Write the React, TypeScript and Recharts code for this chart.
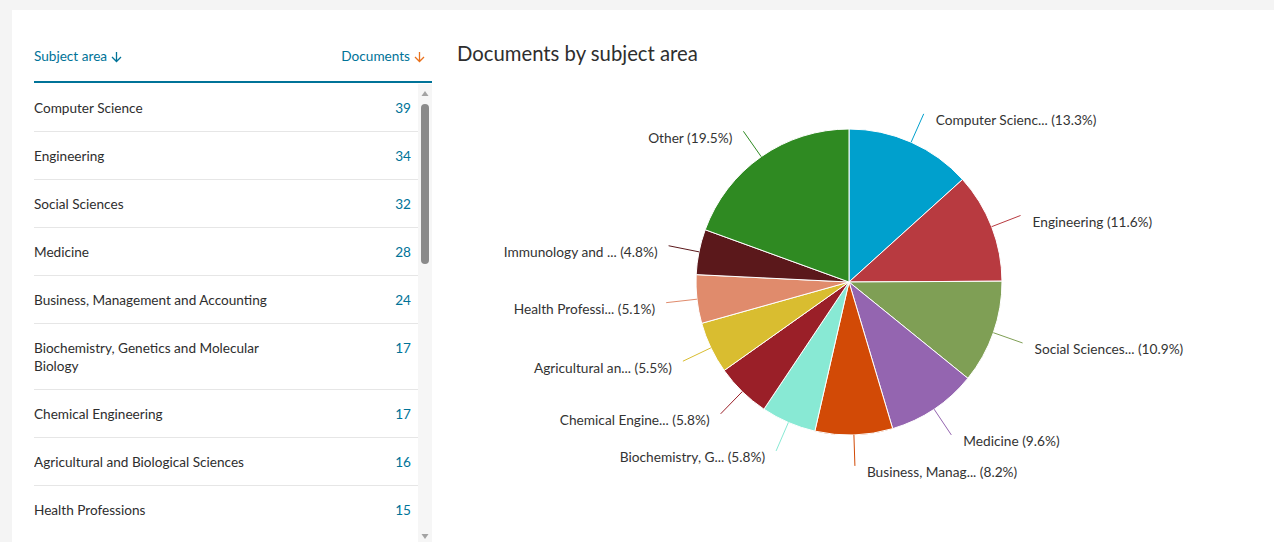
import { PieChart, Pie, Cell } from "recharts";

// subject areas, full names for the table
const SUBJECTS = [
  "Computer Science",
  "Engineering",
  "Social Sciences",
  "Medicine",
  "Business, Management and Accounting",
  "Biochemistry, Genetics and Molecular Biology",
  "Chemical Engineering",
  "Agricultural and Biological Sciences",
  "Health Professions",
  "Immunology and Microbiology",
];
const DOCUMENTS = [39, 34, 32, 28, 24, 17, 17, 16, 15, 14];
const VISIBLE_ROWS = 9; // the table is scrolled, only 9 rows fit

// pie slices (top 10 + other)
const SLICE_LABELS = [
  "Computer Scienc...",
  "Engineering",
  "Social Sciences...",
  "Medicine",
  "Business, Manag...",
  "Biochemistry, G...",
  "Chemical Engine...",
  "Agricultural an...",
  "Health Professi...",
  "Immunology and ...",
  "Other",
];
const SLICE_VALUES = [39, 34, 32, 28, 24, 17, 17, 16, 15, 14, 57];
const SLICE_COLORS = [
  "#00a0cd", "#b83a40", "#7f9f55", "#9465b0", "#d24a06",
  "#88e9d4", "#9a1f28", "#d9bd30", "#e08b6c", "#5b181b", "#2f8a22",
];

const pieData = SLICE_LABELS.map((name, i) => ({ name, value: SLICE_VALUES[i] }));

const FONT = "Lato, 'Open Sans', sans-serif";
const BLUE = "#007398";
const RADIAN = Math.PI / 180;

function renderLabel(props: any) {
  const { cx, cy, midAngle, outerRadius, percent, index } = props;
  const cos = Math.cos(-midAngle * RADIAN);
  const sin = Math.sin(-midAngle * RADIAN);
  const sx = cx + outerRadius * cos;
  const sy = cy + outerRadius * sin;
  const ex = cx + (outerRadius + 31) * cos;
  const ey = cy + (outerRadius + 31) * sin;
  const right = cos >= 0;
  return (
    <g key={`lbl-${index}`}>
      <path d={`M${sx},${sy}L${ex},${ey}`} stroke={SLICE_COLORS[index]} strokeWidth={1} fill="none" />
      <text
        x={ex + (right ? 12 : -11)}
        y={ey + 6}
        textAnchor={right ? "start" : "end"}
        dominantBaseline="central"
        fontSize={13.7}
        fontFamily={FONT}
        fill="#333"
      >
        {`${SLICE_LABELS[index]} (${(percent * 100).toFixed(1)}%)`}
      </text>
    </g>
  );
}

function Arrow({ color }: { color: string }) {
  return (
    <svg width="11" height="12" style={{ marginLeft: 4, verticalAlign: "-2px" }}>
      <path d="M5.5 1 V10.5 M1 6 L5.5 10.5 L10 6" stroke={color} strokeWidth="1.3" fill="none" />
    </svg>
  );
}

export default function App() {
  return (
    <div style={{ position: "relative", width: 1274, height: 542, background: "#f4f4f4", overflow: "hidden", fontFamily: FONT }}>
      <style>{"body{margin:0}"}</style>
      <div style={{ position: "absolute", left: 12, top: 10, right: 0, bottom: 0, background: "#fff" }} />

      {/* table */}
      <div style={{ position: "absolute", left: 34, top: 44, width: 398, fontSize: 13.6, color: BLUE }}>
        <div style={{ display: "flex", justifyContent: "space-between", height: 37, lineHeight: "24px" }}>
          <span>Subject area<Arrow color={BLUE} /></span>
          <span style={{ marginRight: 7 }}>Documents<Arrow color="#e9711c" /></span>
        </div>
        <div style={{ height: 2, background: BLUE }} />
      </div>
      <div style={{ position: "absolute", left: 34, top: 84, width: 384, height: 449, overflow: "hidden" }}>
        {SUBJECTS.slice(0, VISIBLE_ROWS).map((s, i) => (
          <div key={s} style={{ display: "flex", justifyContent: "space-between", padding: "14.5px 0", borderBottom: "1px solid #e6e6e6", lineHeight: "18px", fontSize: 13.6 }}>
            <span style={{ width: 250, color: "#2e2e2e" }}>{s}</span>
            <span style={{ color: BLUE, marginRight: 7 }}>{DOCUMENTS[i]}</span>
          </div>
        ))}
      </div>
      {/* scrollbar */}
      <div style={{ position: "absolute", left: 418, top: 84, width: 14, height: 458, background: "#f6f6f6" }}>
        <svg width="14" height="458" style={{ display: "block" }}>
          <path d="M3.5 12 L7 7 L10.5 12 Z" fill="#a3a3a3" />
          <rect x="3" y="20" width="8" height="160" rx="4" fill="#8a8a8a" />
          <path d="M3.5 450 L7 455 L10.5 450 Z" fill="#a3a3a3" />
        </svg>
      </div>

      {/* chart */}
      <div style={{ position: "absolute", left: 457, top: 38, fontSize: 20.3, color: "#2e2e2e", lineHeight: "30px" }}>
        Documents by subject area
      </div>
      <div style={{ position: "absolute", left: 440, top: 0 }}>
        <PieChart width={834} height={542} margin={{ top: 0, right: 0, bottom: 0, left: 0 }}>
          <Pie
            data={pieData}
            dataKey="value"
            nameKey="name"
            cx={409}
            cy={282}
            outerRadius={153}
            startAngle={90}
            endAngle={-270}
            stroke="#fff"
            strokeWidth={1}
            label={renderLabel}
            labelLine={false}
            isAnimationActive={false}
          >
            {pieData.map((d, i) => (
              <Cell key={d.name} fill={SLICE_COLORS[i]} />
            ))}
          </Pie>
        </PieChart>
      </div>
    </div>
  );
}
